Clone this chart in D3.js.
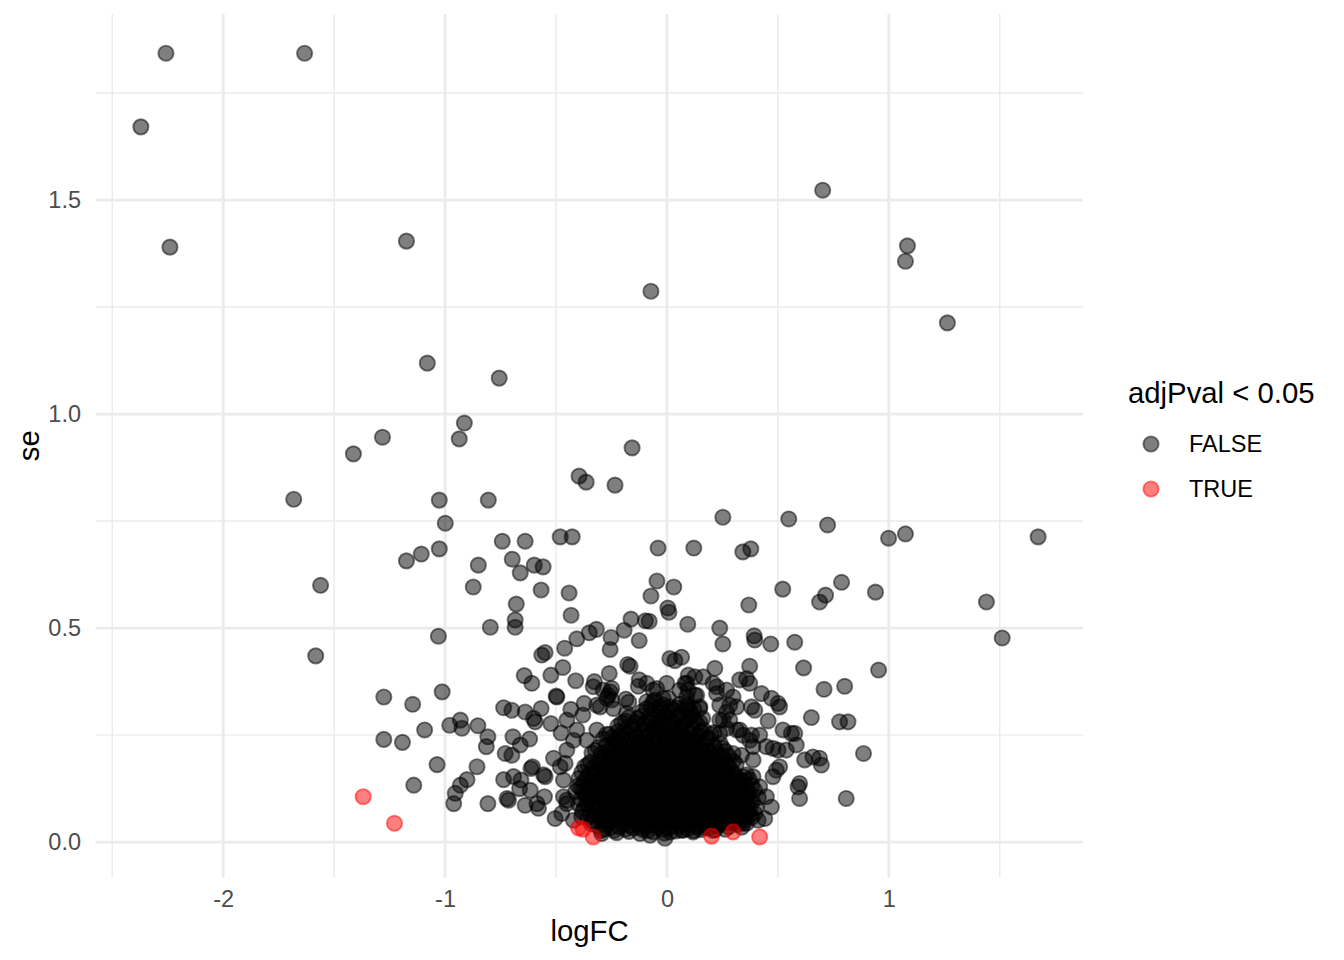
<!DOCTYPE html>
<html>
<head>
<meta charset="utf-8">
<script src="https://cdn.jsdelivr.net/npm/d3@7"></script>
<style>
  html, body { margin: 0; padding: 0; background: #fff; }
  svg { display: block; font-family: "Liberation Sans", Arial, Helvetica, sans-serif; }
</style>
</head>
<body>
<svg id="chart" width="1344" height="960"></svg>
<script>
// data: [logFC, se]
const falseOuter = [
  [-2.258,1.843],[-1.633,1.843],[-2.371,1.671],[-2.240,1.390],[0.702,1.523],[-1.174,1.404],[1.084,1.393],[1.075,1.357],
  [-0.072,1.287],[1.264,1.213],[-1.080,1.119],[-0.756,1.084],[-0.913,0.979],[-1.282,0.946],[-0.936,0.942],[-1.413,0.907],
  [-0.157,0.921],[-0.396,0.855],[-0.364,0.841],[-0.234,0.834],[-1.682,0.801],[-1.026,0.799],[-0.805,0.799],[-0.999,0.745],
  [0.252,0.759],[0.549,0.755],[0.724,0.741],[1.673,0.713],[1.075,0.720],[0.999,0.710],[-0.481,0.713],[-0.427,0.713],
  [-0.742,0.703],[-0.639,0.703],[-0.040,0.687],[0.121,0.687],[0.342,0.678],[0.378,0.685],[-1.026,0.685],[-1.107,0.673],
  [-1.174,0.657],[-0.697,0.661],[-0.598,0.647],[-0.558,0.643],[-0.850,0.647],[-0.661,0.629],[-1.561,0.600],[-0.873,0.596],
  [-0.441,0.582],[-0.567,0.589],[-0.045,0.610],[0.031,0.596],[0.522,0.591],[0.787,0.607],[0.715,0.577],[0.688,0.561],
  [0.940,0.584],[1.440,0.561],[-0.679,0.556],[0.369,0.554],[-0.072,0.575],[0.004,0.547],[0.009,0.537],[-0.432,0.530],
  [-0.097,0.517],[-0.080,0.516],[-0.162,0.521],[0.094,0.509],[-0.796,0.502],[-0.684,0.502],[-0.684,0.519],[0.238,0.500],
  [1.511,0.477],[-1.030,0.481],[0.576,0.467],[0.468,0.463],[0.252,0.463],[-1.583,0.435],[0.954,0.402],[0.616,0.407]
];

const falseMid = [
  [-0.549,0.443],[-0.564,0.437],[-0.193,0.495],[-0.318,0.497],[-0.350,0.489],[-0.406,0.475],[-0.461,0.453],[-0.252,0.478],
  [-0.256,0.450],[-0.125,0.471],[-0.469,0.408],[-0.523,0.390],[-0.643,0.389],[-0.609,0.371],[-0.411,0.377],[-0.327,0.375],
  [-0.332,0.363],[-0.260,0.394],[-0.177,0.415],[-0.166,0.411],[-0.125,0.379],[-0.129,0.364],[-0.249,0.359],[-0.264,0.343],
  [-0.499,0.341],[-0.496,0.339],[-0.736,0.314],[-0.699,0.308],[-0.639,0.304],[-0.567,0.312],[-0.601,0.289],[-0.594,0.281],
  [-0.523,0.277],[-0.433,0.310],[-0.373,0.324],[-0.379,0.297],[-0.316,0.320],[-0.271,0.336],[-0.185,0.334],[-0.172,0.327],
  [-0.181,0.301],[-0.852,0.272],[-1.276,0.339],[-1.146,0.322],[-1.013,0.351],[-1.092,0.262],[-1.276,0.240],[-1.192,0.233],
  [-1.036,0.181],[-1.141,0.133],[-0.979,0.273],[-0.931,0.285],[-0.924,0.266],[-0.807,0.246],[-0.814,0.223],[-0.856,0.176],
  [-0.901,0.146],[-0.931,0.133],[-0.954,0.114],[-0.961,0.090],[-0.807,0.090],[-0.477,0.255],[-0.694,0.246],[-0.661,0.227],
  [-0.619,0.241],[-0.729,0.207],[-0.699,0.203],[-0.606,0.176],[-0.613,0.172],[-0.549,0.153],[-0.556,0.157],[-0.736,0.146],
  [-0.691,0.153],[-0.658,0.145],[-0.664,0.125],[-0.616,0.121],[-0.721,0.102],[-0.714,0.098],[-0.639,0.086],[-0.586,0.090],
  [-0.579,0.079],[-0.552,0.106],[-0.504,0.055],[-0.466,0.106],[-0.451,0.098],[-0.421,0.238],[-0.451,0.215],[-0.511,0.196],
  [-0.481,0.176],[0.013,0.429],[0.066,0.432],[0.036,0.424],[0.373,0.411],[-0.287,0.355],[-0.256,0.351],[-0.249,0.332],
  [-0.046,0.359],[-0.001,0.371],[-0.017,0.336],[-0.062,0.328],[-0.031,0.316],[0.081,0.371],[0.096,0.355],[0.126,0.386],
  [0.163,0.386],[0.208,0.371],[0.224,0.347],[0.126,0.343],[0.148,0.316],[0.096,0.320],[0.269,0.355],[0.298,0.339],
  [0.328,0.379],[0.359,0.382],[0.373,0.371],[0.381,0.316],[0.396,0.308],[0.314,0.316],[0.283,0.320],[0.253,0.285],
  [0.238,0.254],[0.269,0.266],[0.328,0.262],[0.381,0.250],[0.388,0.223],[0.298,0.207],[0.336,0.203],[0.388,0.192],
  [-0.451,0.285],[-0.301,0.316],[-0.242,0.312],[-0.316,0.262],[-0.406,0.262],[-0.361,0.238],[-0.459,0.184],[-0.466,0.145],
  [-0.451,0.090],[-0.474,0.067],[-0.421,0.051],[-0.384,0.059],[-0.294,0.020],[-0.121,0.020],[-0.076,0.016],[-0.009,0.009],
  [0.073,0.028],[0.118,0.024],[0.208,0.027],[0.359,0.044],[0.396,0.067],[0.396,0.472],[0.801,0.364],[0.708,0.357],
  [0.216,0.406],[0.224,0.363],[0.426,0.347],[0.471,0.336],[0.501,0.324],[0.508,0.316],[0.238,0.320],[0.269,0.304],
  [0.651,0.291],[0.778,0.281],[0.816,0.281],[0.456,0.283],[0.314,0.262],[0.343,0.250],[0.373,0.238],[0.418,0.250],
  [0.523,0.262],[0.561,0.254],[0.576,0.254],[0.583,0.227],[0.448,0.223],[0.478,0.219],[0.501,0.215],[0.538,0.215],
  [0.621,0.192],[0.658,0.199],[0.688,0.196],[0.696,0.180],[0.886,0.207],[0.808,0.102],[0.598,0.137],[0.591,0.129],
  [0.598,0.102],[0.493,0.168],[0.478,0.153],[0.508,0.176],[0.388,0.153],[0.418,0.129],[0.448,0.106],[0.471,0.082],
  [0.411,0.051],[0.441,0.055],[0.314,0.082],[0.343,0.067],[0.373,0.075],[0.393,0.482],[0.096,0.390],[-0.091,0.371],
  [0.238,0.285],[0.283,0.285],[0.089,0.371],[0.058,0.355],[0.089,0.339],[0.134,0.343],[0.148,0.312],[0.089,0.312],
  [-0.062,0.355],[-0.054,0.332],[-0.091,0.328],[0.006,0.336],[0.013,0.316]
];

// the dense blob around logFC 0, se 0.02-0.3
const falseCore = [
  [-0.312,0.038],[-0.281,0.031],[-0.262,0.044],[-0.238,0.027],[-0.214,0.036],[-0.196,0.041],[-0.171,0.025],[-0.152,0.033],
  [-0.133,0.042],[-0.108,0.029],[-0.094,0.038],[-0.061,0.024],[-0.043,0.035],[-0.027,0.043],[-0.012,0.021],[0.008,0.032],
  [0.024,0.040],[0.041,0.026],[0.057,0.037],[0.079,0.043],[0.094,0.031],[0.136,0.036],[0.152,0.029],[0.171,0.041],
  [0.188,0.033],[0.226,0.038],[0.247,0.045],[0.262,0.030],[0.318,0.041],[0.337,0.035],
  [-0.356,0.058],[-0.337,0.049],[-0.318,0.066],[-0.296,0.054],[-0.277,0.071],[-0.259,0.047],[-0.243,0.062],[-0.228,0.055],
  [-0.209,0.073],[-0.191,0.051],[-0.177,0.064],[-0.158,0.057],[-0.142,0.069],[-0.126,0.048],[-0.113,0.061],[-0.098,0.074],
  [-0.082,0.053],[-0.066,0.066],[-0.051,0.046],[-0.038,0.059],[-0.021,0.071],[-0.006,0.052],[0.011,0.063],[0.026,0.049],
  [0.039,0.072],[0.053,0.058],[0.068,0.047],[0.084,0.067],[0.099,0.055],[0.114,0.072],[0.129,0.050],[0.144,0.062],
  [0.161,0.048],[0.177,0.069],[0.193,0.056],[0.209,0.064],[0.224,0.051],[0.241,0.070],[0.257,0.058],[0.274,0.046],
  [0.289,0.066],[0.306,0.053],[0.324,0.071],[0.349,0.057],[0.371,0.063],
  [-0.398,0.089],[-0.372,0.079],[-0.351,0.098],[-0.333,0.084],[-0.314,0.103],[-0.298,0.077],[-0.281,0.092],[-0.266,0.082],
  [-0.249,0.099],[-0.233,0.087],[-0.218,0.078],[-0.204,0.096],[-0.187,0.085],[-0.171,0.102],[-0.156,0.080],[-0.139,0.093],
  [-0.124,0.077],[-0.109,0.089],[-0.093,0.101],[-0.078,0.083],[-0.062,0.095],[-0.047,0.078],[-0.031,0.091],[-0.016,0.104],
  [-0.002,0.086],[0.013,0.097],[0.028,0.079],[0.044,0.092],[0.059,0.083],[0.073,0.101],[0.088,0.076],[0.103,0.090],
  [0.118,0.082],[0.134,0.099],[0.149,0.087],[0.166,0.078],[0.181,0.095],[0.197,0.084],[0.213,0.102],[0.228,0.080],
  [0.244,0.093],[0.261,0.086],[0.277,0.098],[0.293,0.078],[0.311,0.091],[0.329,0.083],[0.346,0.100],[0.363,0.088],
  [0.385,0.094],[0.402,0.081],
  [-0.412,0.118],[-0.389,0.127],[-0.367,0.111],[-0.347,0.131],[-0.328,0.116],[-0.309,0.124],[-0.292,0.108],[-0.276,0.133],
  [-0.259,0.119],[-0.244,0.127],[-0.227,0.110],[-0.211,0.122],[-0.196,0.134],[-0.181,0.114],[-0.164,0.126],[-0.149,0.107],
  [-0.133,0.120],[-0.117,0.131],[-0.102,0.112],[-0.087,0.125],[-0.071,0.109],[-0.056,0.129],[-0.041,0.117],[-0.024,0.106],
  [-0.009,0.123],[0.006,0.132],[0.021,0.113],[0.036,0.126],[0.052,0.108],[0.067,0.121],[0.082,0.134],[0.097,0.115],
  [0.112,0.128],[0.127,0.110],[0.143,0.124],[0.158,0.131],[0.174,0.113],[0.189,0.127],[0.205,0.109],[0.221,0.121],
  [0.236,0.133],[0.252,0.116],[0.268,0.128],[0.284,0.111],[0.301,0.124],[0.317,0.107],[0.334,0.119],[0.352,0.131],
  [0.371,0.114],[0.394,0.122],
  [-0.396,0.149],[-0.372,0.141],[-0.349,0.158],[-0.326,0.139],[-0.306,0.152],[-0.287,0.163],[-0.269,0.144],[-0.251,0.156],
  [-0.234,0.137],[-0.218,0.149],[-0.201,0.161],[-0.186,0.142],[-0.169,0.154],[-0.153,0.138],[-0.137,0.150],[-0.121,0.163],
  [-0.106,0.145],[-0.089,0.157],[-0.074,0.139],[-0.058,0.151],[-0.042,0.164],[-0.027,0.143],[-0.011,0.155],[0.004,0.137],
  [0.019,0.148],[0.035,0.160],[0.051,0.141],[0.066,0.153],[0.081,0.136],[0.097,0.146],[0.113,0.159],[0.128,0.140],
  [0.144,0.152],[0.161,0.164],[0.177,0.144],[0.193,0.156],[0.209,0.138],[0.226,0.150],[0.243,0.162],[0.259,0.143],
  [0.276,0.155],[0.294,0.139],[0.313,0.151],[0.336,0.145],[0.359,0.157],
  [-0.371,0.176],[-0.344,0.187],[-0.321,0.169],[-0.299,0.182],[-0.279,0.193],[-0.261,0.172],[-0.242,0.185],[-0.224,0.167],
  [-0.207,0.179],[-0.189,0.191],[-0.172,0.170],[-0.156,0.183],[-0.139,0.166],[-0.122,0.178],[-0.106,0.190],[-0.089,0.171],
  [-0.073,0.184],[-0.057,0.168],[-0.041,0.180],[-0.024,0.193],[-0.008,0.173],[0.008,0.186],[0.024,0.168],[0.041,0.181],
  [0.057,0.192],[0.073,0.172],[0.089,0.185],[0.106,0.167],[0.122,0.179],[0.139,0.190],[0.156,0.171],[0.173,0.184],
  [0.191,0.168],[0.209,0.180],[0.228,0.192],[0.247,0.173],[0.266,0.186],[0.288,0.170],[0.312,0.182],
  [-0.338,0.208],[-0.309,0.221],[-0.284,0.201],[-0.262,0.214],[-0.241,0.227],[-0.222,0.205],[-0.204,0.218],[-0.186,0.199],
  [-0.168,0.212],[-0.151,0.225],[-0.134,0.203],[-0.117,0.216],[-0.101,0.229],[-0.084,0.207],[-0.067,0.220],[-0.051,0.198],
  [-0.034,0.211],[-0.018,0.224],[-0.002,0.202],[0.014,0.215],[0.031,0.228],[0.047,0.206],[0.064,0.219],[0.081,0.197],
  [0.098,0.210],[0.115,0.223],[0.133,0.204],[0.151,0.217],[0.169,0.200],[0.188,0.213],[0.208,0.226],[0.229,0.206],
  [0.252,0.219],[0.276,0.201],
  [-0.288,0.241],[-0.259,0.252],[-0.234,0.236],[-0.211,0.248],[-0.189,0.261],[-0.167,0.239],[-0.146,0.253],[-0.126,0.234],
  [-0.106,0.246],[-0.087,0.259],[-0.068,0.238],[-0.049,0.251],[-0.031,0.263],[-0.012,0.242],[0.006,0.255],[0.024,0.235],
  [0.043,0.248],[0.061,0.260],[0.081,0.240],[0.101,0.253],[0.121,0.237],[0.142,0.249],[0.164,0.262],[0.187,0.243],
  [0.212,0.256],
  [-0.221,0.271],[-0.188,0.283],[-0.158,0.272],[-0.131,0.289],[-0.104,0.276],[-0.079,0.292],[-0.054,0.270],[-0.029,0.285],
  [-0.006,0.297],[0.017,0.274],[0.041,0.288],[0.064,0.271],[0.087,0.284],[0.111,0.296],[0.136,0.276],[0.161,0.289],
  [-0.112,0.305],[-0.071,0.318],[-0.036,0.302],[0.029,0.309],[0.058,0.322],[0.104,0.306],
  [-0.183,0.097],[-0.152,0.118],[-0.121,0.143],[-0.094,0.067],[-0.067,0.112],[-0.038,0.137],[-0.014,0.074],[0.016,0.118],
  [0.047,0.099],[0.071,0.143],[0.096,0.063],[0.123,0.105],[0.149,0.139],[0.176,0.091],[-0.171,0.158],[-0.139,0.079],
  [-0.108,0.166],[-0.079,0.134],[-0.052,0.089],[-0.021,0.172],[0.009,0.101],[0.033,0.151],[0.062,0.078],[0.088,0.122],
  [0.114,0.181],[0.141,0.074],[0.167,0.129],[-0.196,0.116],[-0.127,0.196],[-0.061,0.201],[0.004,0.213],[0.072,0.194],
  [0.131,0.203],[-0.236,0.171],[0.219,0.142],[0.251,0.098],[-0.263,0.106],[0.283,0.123],[-0.301,0.143],[0.198,0.189]
];

// second pass over the blob, it is solid black in the reference
const falseCore2 = [
  [-0.296,0.027],[-0.254,0.034],[-0.226,0.022],[-0.187,0.030],[-0.163,0.039],[-0.119,0.034],[-0.084,0.027],[-0.052,0.041],
  [-0.019,0.030],[0.016,0.024],[0.033,0.046],[0.067,0.028],[0.103,0.040],[0.121,0.027],[0.162,0.034],[0.179,0.046],
  [0.217,0.029],[0.236,0.041],[0.279,0.036],[0.302,0.046],[0.346,0.044],[-0.341,0.043],
  [-0.381,0.071],[-0.346,0.066],[-0.307,0.059],[-0.287,0.049],[-0.268,0.063],[-0.251,0.076],[-0.219,0.061],[-0.199,0.068],
  [-0.183,0.057],[-0.167,0.076],[-0.149,0.051],[-0.134,0.059],[-0.118,0.077],[-0.104,0.052],[-0.088,0.062],[-0.073,0.057],
  [-0.058,0.075],[-0.044,0.064],[-0.029,0.053],[-0.013,0.061],[0.004,0.075],[0.019,0.057],[0.033,0.066],[0.047,0.052],
  [0.061,0.069],[0.076,0.059],[0.091,0.073],[0.107,0.061],[0.122,0.053],[0.137,0.077],[0.153,0.067],[0.169,0.057],
  [0.185,0.074],[0.201,0.049],[0.217,0.071],[0.233,0.061],[0.249,0.052],[0.266,0.067],[0.282,0.057],[0.298,0.074],
  [0.315,0.062],[0.338,0.049],[0.359,0.073],[0.383,0.058],
  [-0.388,0.101],[-0.362,0.090],[-0.341,0.108],[-0.323,0.093],[-0.306,0.086],[-0.289,0.104],[-0.273,0.097],[-0.257,0.088],
  [-0.241,0.106],[-0.226,0.094],[-0.211,0.087],[-0.195,0.105],[-0.179,0.092],[-0.163,0.084],[-0.147,0.103],[-0.131,0.088],
  [-0.116,0.098],[-0.101,0.082],[-0.086,0.093],[-0.069,0.105],[-0.055,0.087],[-0.039,0.099],[-0.023,0.082],[-0.008,0.094],
  [0.006,0.107],[0.021,0.089],[0.036,0.101],[0.051,0.087],[0.066,0.096],[0.081,0.108],[0.096,0.084],[0.111,0.099],
  [0.126,0.090],[0.141,0.106],[0.157,0.093],[0.173,0.101],[0.189,0.088],[0.205,0.095],[0.221,0.106],[0.236,0.087],
  [0.252,0.104],[0.269,0.091],[0.286,0.107],[0.302,0.085],[0.319,0.099],[0.337,0.091],[0.356,0.105],[0.376,0.097],
  [0.412,0.104],
  [-0.401,0.131],[-0.378,0.119],[-0.357,0.124],[-0.337,0.112],[-0.318,0.132],[-0.301,0.118],[-0.284,0.126],[-0.268,0.113],
  [-0.252,0.135],[-0.236,0.118],[-0.219,0.131],[-0.204,0.113],[-0.189,0.124],[-0.172,0.136],[-0.157,0.115],[-0.141,0.128],
  [-0.125,0.111],[-0.109,0.124],[-0.094,0.136],[-0.079,0.117],[-0.063,0.121],[-0.048,0.134],[-0.033,0.112],[-0.017,0.128],
  [-0.001,0.116],[0.013,0.124],[0.028,0.137],[0.044,0.117],[0.059,0.130],[0.074,0.112],[0.089,0.127],[0.105,0.136],
  [0.119,0.118],[0.135,0.131],[0.151,0.115],[0.166,0.123],[0.182,0.136],[0.197,0.118],[0.213,0.130],[0.229,0.112],
  [0.244,0.125],[0.260,0.136],[0.276,0.119],[0.293,0.131],[0.309,0.114],[0.326,0.127],[0.343,0.112],[0.362,0.123],
  [0.382,0.133],
  [-0.384,0.163],[-0.361,0.150],[-0.337,0.143],[-0.316,0.161],[-0.296,0.146],[-0.278,0.154],[-0.260,0.166],[-0.243,0.147],
  [-0.226,0.159],[-0.209,0.142],[-0.194,0.153],[-0.177,0.166],[-0.161,0.146],[-0.145,0.159],[-0.129,0.141],[-0.113,0.152],
  [-0.097,0.166],[-0.081,0.148],[-0.066,0.160],[-0.050,0.142],[-0.034,0.154],[-0.019,0.167],[-0.003,0.146],[0.012,0.158],
  [0.027,0.141],[0.043,0.153],[0.058,0.166],[0.073,0.147],[0.089,0.158],[0.105,0.141],[0.121,0.151],[0.136,0.164],
  [0.152,0.143],[0.169,0.155],[0.185,0.142],[0.201,0.161],[0.218,0.146],[0.234,0.157],[0.251,0.144],[0.268,0.163],
  [0.285,0.148],[0.303,0.160],[0.324,0.142],[0.348,0.152],[0.371,0.146],
  [-0.356,0.181],[-0.333,0.173],[-0.309,0.189],[-0.289,0.176],[-0.270,0.183],[-0.251,0.195],[-0.233,0.178],[-0.215,0.189],
  [-0.198,0.173],[-0.181,0.184],[-0.164,0.196],[-0.147,0.175],[-0.130,0.187],[-0.114,0.172],[-0.097,0.183],[-0.081,0.196],
  [-0.065,0.176],[-0.049,0.189],[-0.032,0.174],[-0.016,0.185],[0.000,0.197],[0.016,0.177],[0.032,0.190],[0.049,0.174],
  [0.065,0.185],[0.081,0.197],[0.097,0.178],[0.114,0.190],[0.131,0.174],[0.147,0.186],[0.164,0.196],[0.182,0.176],
  [0.200,0.189],[0.218,0.173],[0.237,0.185],[0.256,0.196],[0.277,0.178],[0.299,0.189],
  [-0.322,0.214],[-0.296,0.206],[-0.273,0.226],[-0.251,0.208],[-0.231,0.219],[-0.213,0.231],[-0.195,0.210],[-0.177,0.223],
  [-0.159,0.205],[-0.142,0.218],[-0.125,0.230],[-0.109,0.209],[-0.092,0.222],[-0.075,0.204],[-0.059,0.216],[-0.042,0.229],
  [-0.026,0.208],[-0.010,0.221],[0.006,0.233],[0.022,0.210],[0.039,0.223],[0.056,0.205],[0.073,0.217],[0.090,0.230],
  [0.107,0.209],[0.124,0.222],[0.142,0.233],[0.160,0.211],[0.179,0.224],[0.198,0.206],[0.219,0.219],[0.240,0.231],
  [0.264,0.212],
  [-0.272,0.252],[-0.246,0.245],[-0.222,0.258],[-0.199,0.240],[-0.178,0.252],[-0.156,0.264],[-0.136,0.245],[-0.116,0.258],
  [-0.097,0.241],[-0.078,0.253],[-0.059,0.265],[-0.040,0.246],[-0.021,0.259],[-0.003,0.241],[0.015,0.253],[0.033,0.266],
  [0.052,0.244],[0.071,0.257],[0.091,0.243],[0.111,0.265],[0.131,0.247],[0.153,0.258],[0.176,0.241],[0.199,0.252],
  [-0.204,0.279],[-0.172,0.291],[-0.144,0.279],[-0.117,0.294],[-0.091,0.281],[-0.066,0.279],[-0.042,0.293],[-0.017,0.276],
  [0.006,0.288],[0.029,0.279],[0.053,0.295],[0.076,0.279],[0.099,0.291],[0.124,0.283],[0.149,0.279],
  [-0.092,0.312],[-0.052,0.310],[-0.018,0.321],[0.011,0.305],[0.043,0.314],[0.082,0.318],[0.121,0.311]
];

// adjPval < 0.05 == TRUE
const trueGenes = [
  [-1.369,0.106],[-1.228,0.044],[-0.398,0.033],[-0.378,0.030],[-0.332,0.012],[0.201,0.014],[0.298,0.024],[0.418,0.012]
];

const groups      = ['FALSE', 'TRUE'];
const groupColors = ['#000000', '#FF0000'];
const xTicks      = [-2, -1, 0, 1];
const xMinor      = [-2.5, -1.5, -0.5, 0.5, 1.5];
const yTicks      = [0, 0.5, 1, 1.5];
const yMinor      = [0.25, 0.75, 1.25, 1.75];

const falseGenes = falseOuter.concat(falseMid, falseCore, falseCore2);
const allGenes   = falseGenes.concat(trueGenes);

const svg = d3.select('#chart');
const panel = { left: 96, right: 1083, top: 14, bottom: 877.5 };

// ggplot style 5% expansion
function expand(ext) {
  const pad = (ext[1] - ext[0]) * 0.05;
  return [ext[0] - pad, ext[1] + pad];
}

const x = d3.scaleLinear()
  .domain(expand(d3.extent(allGenes, d => d[0])))
  .range([panel.left, panel.right]);

const y = d3.scaleLinear()
  .domain(expand(d3.extent(allGenes, d => d[1])))
  .range([panel.bottom, panel.top]);

svg.append('rect').attr('width', 1344).attr('height', 960).attr('fill', '#fff');

// 1) grid
const grid = svg.append('g').attr('stroke', '#EBEBEB');

grid.selectAll('line.xminor').data(xMinor).join('line')
  .attr('x1', d => x(d)).attr('x2', d => x(d))
  .attr('y1', panel.top).attr('y2', panel.bottom)
  .attr('stroke-width', 1.42);

grid.selectAll('line.yminor').data(yMinor).join('line')
  .attr('x1', panel.left).attr('x2', panel.right)
  .attr('y1', d => y(d)).attr('y2', d => y(d))
  .attr('stroke-width', 1.42);

grid.selectAll('line.xmajor').data(xTicks).join('line')
  .attr('x1', d => x(d)).attr('x2', d => x(d))
  .attr('y1', panel.top).attr('y2', panel.bottom)
  .attr('stroke-width', 2.85);

grid.selectAll('line.ymajor').data(yTicks).join('line')
  .attr('x1', panel.left).attr('x2', panel.right)
  .attr('y1', d => y(d)).attr('y2', d => y(d))
  .attr('stroke-width', 2.85);

// 2) axes (labels only, no ticks or domain line)
const xAxis = svg.append('g')
  .attr('transform', `translate(0,${panel.bottom})`)
  .call(d3.axisBottom(x).tickValues(xTicks).tickSize(0).tickPadding(12.5).tickFormat(d => String(d)));

const yAxis = svg.append('g')
  .attr('transform', `translate(${panel.left},0)`)
  .call(d3.axisLeft(y).tickValues(yTicks).tickSize(0).tickPadding(15).tickFormat(d3.format('.1f')));

[xAxis, yAxis].forEach(g => {
  g.select('.domain').remove();
  g.attr('font-size', null).attr('font-family', null);
  g.selectAll('text').attr('font-size', 23.5).attr('fill', '#4D4D4D');
});

svg.append('text')
  .attr('x', (panel.left + panel.right) / 2)
  .attr('y', 941)
  .attr('text-anchor', 'middle')
  .attr('font-size', 29.3)
  .text('logFC');

svg.append('text')
  .attr('transform', `translate(39,${(panel.top + panel.bottom) / 2}) rotate(-90)`)
  .attr('text-anchor', 'middle')
  .attr('font-size', 29.3)
  .text('se');

// 3) points
const pointR = 7.6;
const color = d3.scaleOrdinal().domain(groups).range(groupColors);

function drawPoints(data, group) {
  svg.append('g')
    .selectAll('circle')
    .data(data)
    .join('circle')
    .attr('cx', d => x(d[0]))
    .attr('cy', d => y(d[1]))
    .attr('r', pointR)
    .attr('fill', color(group))
    .attr('fill-opacity', 0.5)
    .attr('stroke', color(group))
    .attr('stroke-opacity', 0.5)
    .attr('stroke-width', 1.9);
}

drawPoints(falseGenes, 'FALSE');
drawPoints(trueGenes, 'TRUE');

// 4) legend
const legend = svg.append('g');

legend.append('text')
  .attr('x', 1128)
  .attr('y', 403)
  .attr('font-size', 29.3)
  .text('adjPval < 0.05');

const keys = legend.selectAll('g.key')
  .data(groups)
  .join('g')
  .attr('class', 'key')
  .attr('transform', (d, i) => `translate(0,${444 + i * 45})`);

keys.append('circle')
  .attr('cx', 1151)
  .attr('cy', 0)
  .attr('r', pointR)
  .attr('fill', d => color(d))
  .attr('fill-opacity', 0.5)
  .attr('stroke', d => color(d))
  .attr('stroke-opacity', 0.5)
  .attr('stroke-width', 1.9);

keys.append('text')
  .attr('x', 1189)
  .attr('y', 8.3)
  .attr('font-size', 23.5)
  .text(d => d);
</script>
</body>
</html>
